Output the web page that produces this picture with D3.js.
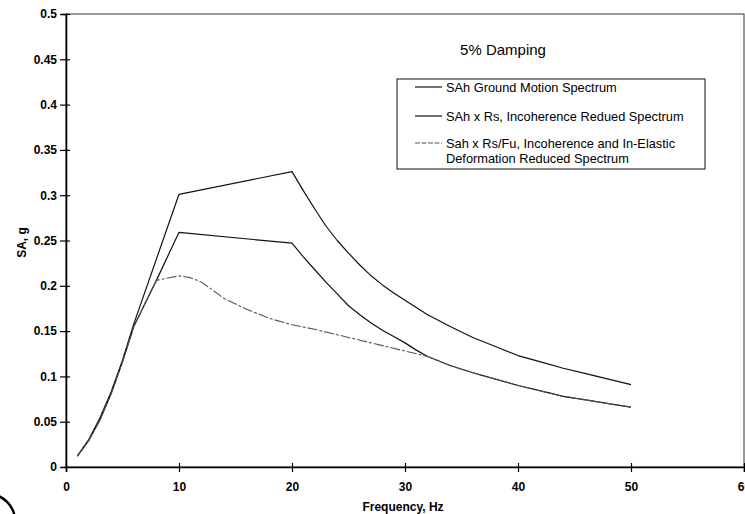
<!DOCTYPE html>
<html>
<head>
	<meta charset="utf-8">
	<title>5% Damping spectra</title>
	<script src="https://cdn.jsdelivr.net/npm/d3@7"></script>
	<style>
		body { margin: 0; background: #fff; }
		svg { display: block; font-family: "Liberation Sans", Arial, Helvetica, sans-serif; }
	</style>
</head>
<body>
<div id="chart"></div>
<script>

	// data

	const xTicks = [0, 10, 20, 30, 40, 50, 60];
	const yTicks = [0, 0.05, 0.1, 0.15, 0.2, 0.25, 0.3, 0.35, 0.4, 0.45, 0.5];

	const seriesNames = [
		"SAh Ground Motion Spectrum",
		"SAh x Rs, Incoherence Redued Spectrum",
		"Sah x Rs/Fu, Incoherence and In-Elastic|Deformation Reduced Spectrum"
	];

	const freqGround = [1, 2, 3, 4, 5, 6, 10, 20, 21, 22, 23, 24, 25, 26, 27, 28, 29, 30, 32, 34, 36, 38, 40, 42, 44, 46, 48, 50];
	const saGround   = [0.012, 0.030, 0.054, 0.083, 0.118, 0.158, 0.301, 0.326, 0.305, 0.285, 0.266, 0.250, 0.236, 0.223, 0.211, 0.201, 0.192, 0.184, 0.168, 0.155, 0.143, 0.133, 0.123, 0.116, 0.109, 0.103, 0.097, 0.091];

	const freqRs = [1, 2, 3, 4, 5, 6, 8, 10, 20, 21, 22, 23, 24, 25, 26, 27, 28, 29, 30, 31, 32, 34, 36, 38, 40, 42, 44, 46, 48, 50];
	const saRs   = [0.012, 0.029, 0.052, 0.081, 0.116, 0.155, 0.206, 0.259, 0.247, 0.232, 0.218, 0.204, 0.191, 0.178, 0.168, 0.159, 0.151, 0.144, 0.137, 0.129, 0.122, 0.112, 0.104, 0.097, 0.090, 0.084, 0.078, 0.074, 0.070, 0.066];

	const freqRsFu = [1, 2, 3, 4, 5, 6, 8, 10, 11, 12, 13, 14, 16, 18, 20, 22, 24, 26, 28, 30, 32, 34, 36, 38, 40, 42, 44, 46, 48, 50];
	const saRsFu   = [0.012, 0.029, 0.052, 0.081, 0.116, 0.155, 0.206, 0.211, 0.209, 0.204, 0.195, 0.186, 0.174, 0.164, 0.157, 0.152, 0.146, 0.140, 0.134, 0.128, 0.122, 0.112, 0.104, 0.097, 0.090, 0.084, 0.078, 0.074, 0.070, 0.066];

	// layout

	const width = 745;
	const height = 514;
	const marginLeft = 66, marginRight = 1, marginTop = 14, marginBottom = 47;
	const tickFont = 12;

	const styles = [
		{ stroke: "#111", width: 1.2, dash: null },
		{ stroke: "#111", width: 1.2, dash: null },
		{ stroke: "#555", width: 1.1, dash: "10,2,3,2" }
	];

	const series = [
		d3.zip(freqGround, saGround),
		d3.zip(freqRs, saRs),
		d3.zip(freqRsFu, saRsFu)
	];

	const x = d3.scaleLinear([0, 60], [marginLeft, width - marginRight]);
	const y = d3.scaleLinear([0, 0.5], [height - marginBottom, marginTop]);

	const svg = d3.select("#chart").append("svg")
		.attr("width", width)
		.attr("height", height)
		.attr("viewBox", [0, 0, width, height]);

	// frame (top and right edges)
	svg.append("rect")
		.attr("x", x(0)).attr("y", y(0.5))
		.attr("width", x(60) - x(0)).attr("height", y(0) - y(0.5))
		.attr("fill", "none").attr("stroke", "#333").attr("stroke-width", 1);

	// lines
	const line = d3.line().x(d => x(d[0])).y(d => y(d[1]));

	svg.append("g")
		.selectAll("path")
		.data(series)
		.join("path")
		.attr("fill", "none")
		.attr("stroke", (d, i) => styles[i].stroke)
		.attr("stroke-width", (d, i) => styles[i].width)
		.attr("stroke-dasharray", (d, i) => styles[i].dash)
		.attr("stroke-linejoin", "round")
		.attr("d", line);

	// axes
	svg.append("g")
		.attr("transform", `translate(0,${y(0)})`)
		.call(d3.axisBottom(x).tickValues(xTicks).tickFormat(d3.format("d")).tickSize(5).tickPadding(10))
		.call(g => g.select(".domain").attr("stroke", "#000").attr("stroke-width", 1.6))
		.call(g => g.selectAll(".tick line").attr("y1", -4).attr("y2", 5).attr("stroke-width", 1.2))
		.call(g => g.selectAll(".tick text")
			.attr("font-size", tickFont).attr("font-weight", "bold").attr("fill", "#000")
			.attr("font-family", "'Liberation Sans', Arial, sans-serif"));

	svg.append("g")
		.attr("transform", `translate(${x(0)},0)`)
		.call(d3.axisLeft(y).tickValues(yTicks).tickFormat(d3.format("~g")).tickSize(5).tickPadding(4))
		.call(g => g.select(".domain").attr("stroke", "#000").attr("stroke-width", 1.6))
		.call(g => g.selectAll(".tick line").attr("x1", -6).attr("x2", 4).attr("stroke-width", 1.2))
		.call(g => g.selectAll(".tick text")
			.attr("font-size", tickFont).attr("font-weight", "bold").attr("fill", "#000")
			.attr("font-family", "'Liberation Sans', Arial, sans-serif"));

	// axis titles
	svg.append("text")
		.attr("x", 403).attr("y", 511)
		.attr("text-anchor", "middle")
		.attr("font-size", 12).attr("font-weight", "bold")
		.text("Frequency, Hz");

	svg.append("text")
		.attr("transform", "translate(25.5,242.5) rotate(-90)")
		.attr("text-anchor", "middle")
		.attr("font-size", 12).attr("font-weight", "bold")
		.text("SA, g");

	// chart title
	svg.append("text")
		.attr("x", 503).attr("y", 55)
		.attr("text-anchor", "middle")
		.attr("font-size", 15)
		.text("5% Damping");

	// legend
	const legend = svg.append("g");
	legend.append("rect")
		.attr("x", 397).attr("y", 79).attr("width", 308).attr("height", 90)
		.attr("fill", "#fff").attr("stroke", "#111").attr("stroke-width", 1);

	const rowY = [87, 116, 143];
	seriesNames.forEach((name, i) => {
		legend.append("line")
			.attr("x1", 415).attr("x2", 442)
			.attr("y1", rowY[i]).attr("y2", rowY[i])
			.attr("stroke", styles[i].stroke)
			.attr("stroke-width", styles[i].width)
			.attr("stroke-dasharray", i === 2 ? "5,1.5" : null);
		const t = legend.append("text")
			.attr("x", 446).attr("y", rowY[i] + 4.5)
			.attr("font-size", 12.8);
		name.split("|").forEach((part, j) => {
			t.append("tspan").attr("x", 446).attr("dy", j ? 15 : 0).text(part);
		});
	});

	// circled mark cut by the page corner
	svg.append("circle")
		.attr("cx", -12).attr("cy", 521).attr("r", 27)
		.attr("fill", "none").attr("stroke", "#000").attr("stroke-width", 2.5);

</script>
</body>
</html>
